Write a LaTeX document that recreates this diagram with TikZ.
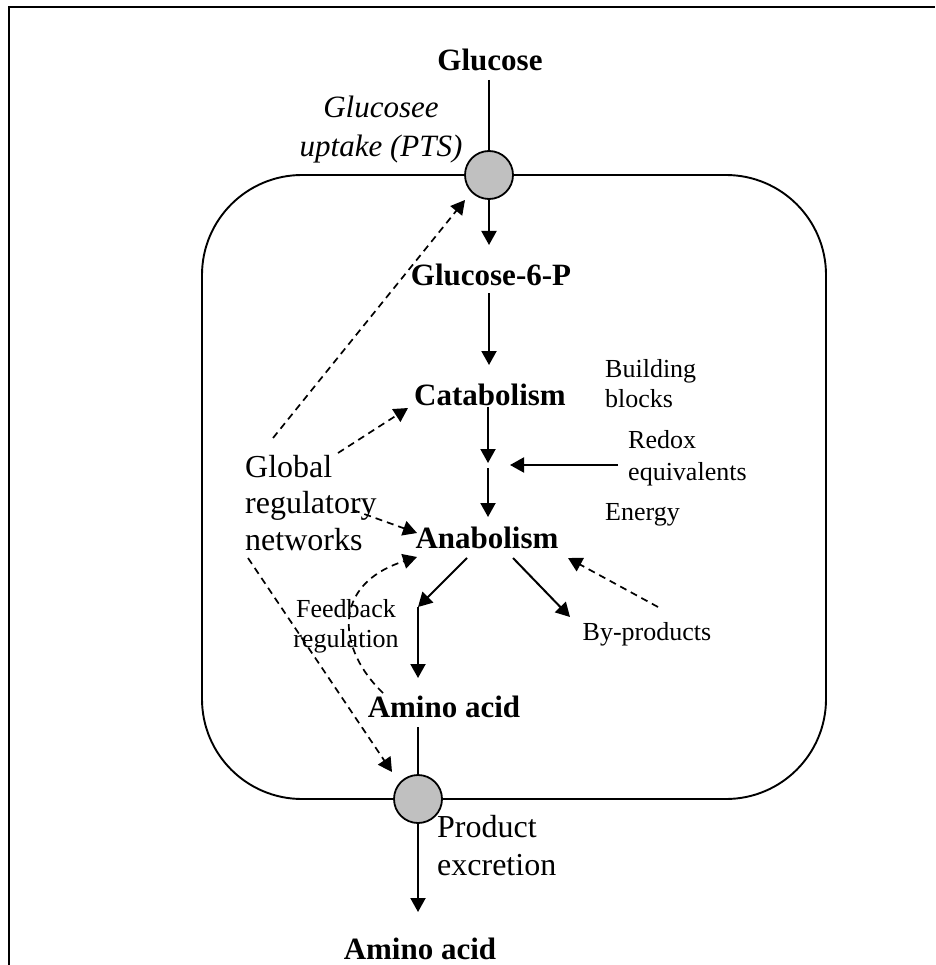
\documentclass[tikz,border=0pt]{standalone}
\usepackage{fontspec}
\setmainfont{Liberation Serif}
\usetikzlibrary{arrows.meta}
\definecolor{pore}{RGB}{192,192,192}
\begin{document}
\begin{tikzpicture}[x=1pt,y=-1pt,
  lbl/.style={inner sep=0pt, anchor=base},
  lblw/.style={inner sep=0pt, anchor=base west},
  bigb/.style={font=\fontsize{31}{36}\selectfont\bfseries},
  arr/.style={line width=2pt, -{Triangle[length=14pt,width=15pt]}},
  darr/.style={line width=1.7pt, dash pattern=on 7pt off 5pt, -{Triangle[length=14pt,width=15pt]}},
  poreshape/.style={circle, draw, fill=pore, line width=1.8pt, minimum size=48pt, inner sep=0pt}]
\useasboundingbox (0,0) rectangle (935,965);
% outer frame
\draw[line width=2.6pt] (9,965) -- (9,7) -- (935,7);
% cell
\draw[line width=1.9pt, rounded corners=100pt] (202,175) rectangle (826,799);
% pores
\node[poreshape] (up) at (489,175) {};
\node[poreshape] (dn) at (418,799) {};
% main labels
\node[lbl,bigb] (glc) at (490,71) {Glucose};
\node[lbl,bigb] (g6p) at (491,286) {Glucose-6-P};
\node[lbl,bigb] (cat) at (490,405) {Catabolism};
\node[lbl,bigb] (ana) at (487,548) {Anabolism};
\node[lbl,bigb] (aa1) at (444,717) {Amino acid};
\node[lbl,bigb] (aa2) at (420,959) {Amino acid};
% side labels
\node[lbl] (pts) at (381,118) {\fontsize{31}{39}\selectfont\itshape\begin{tabular}[t]{@{}c@{}}Glucosee\\uptake (PTS)\end{tabular}};
\node[lblw] (bb) at (605,377) {\fontsize{26}{30}\selectfont\begin{tabular}[t]{@{}l@{}}Building\\blocks\end{tabular}};
\node[lblw] (redox) at (628,448) {\fontsize{26}{32}\selectfont\begin{tabular}[t]{@{}l@{}}Redox\\equivalents\end{tabular}};
\node[lblw] (energy) at (605,520) {\fontsize{26}{30}\selectfont Energy};
\node[lbl] (byp) at (647,640) {\fontsize{26}{30}\selectfont By-products};
\node[lblw] (grn) at (245,477) {\fontsize{32}{36.5}\selectfont\begin{tabular}[t]{@{}l@{}}Global\\regulatory\\networks\end{tabular}};
\node[lbl] (fb) at (346,617) {\fontsize{26}{30}\selectfont\begin{tabular}[t]{@{}c@{}}Feedback\\regulation\end{tabular}};
\node[lblw] (prod) at (437,837) {\fontsize{32}{38}\selectfont\begin{tabular}[t]{@{}l@{}}Product\\excretion\end{tabular}};
% connector points
\coordinate (glcb) at (489,80);
\coordinate (g6pt) at (489,245);
\coordinate (g6pb) at (489,293);
\coordinate (catt) at (489,365);
\coordinate (catb) at (488,407);
\coordinate (midt) at (488,463);
\coordinate (midb) at (488,468);
\coordinate (anat) at (488,517);
\coordinate (redoxs) at (618,465);
\coordinate (redoxe) at (510,465);
\coordinate (anal) at (467,558);
\coordinate (kink) at (418,607);
\coordinate (aa1t) at (418,678);
\coordinate (anar) at (513,558);
\coordinate (bypt) at (570,617);
\coordinate (bypd) at (658,607);
\coordinate (anaback) at (568,558);
\coordinate (aa1b) at (418,727);
\coordinate (aa2t) at (418,912);
\coordinate (grntop) at (273,438);
\coordinate (uptip) at (465,200);
\coordinate (grncat) at (338,453);
\coordinate (cattip) at (408,408);
\coordinate (grnana) at (353,510);
\coordinate (anatip) at (417,533);
\coordinate (fbstart) at (383,693);
\coordinate (fbtip) at (417,557);
\coordinate (grnbot) at (248,558);
\coordinate (dntip) at (392,772);
% solid flow
\draw[line width=2pt] (glcb) -- (up.north);
\draw[arr] (up.south) -- (g6pt);
\draw[arr] (g6pb) -- (catt);
\draw[arr] (catb) -- (midt);
\draw[arr] (midb) -- (anat);
\draw[arr] (redoxs) -- (redoxe);
\draw[arr] (anal) -- (kink);
\draw[arr] (kink) -- (aa1t);
\draw[arr] (anar) -- (bypt);
\draw[line width=2pt] (aa1b) -- (dn.north);
\draw[arr] (dn.south) -- (aa2t);
% regulation (dashed)
\draw[darr] (bypd) -- (anaback);
\draw[darr] (grntop) -- (uptip);
\draw[darr] (grncat) -- (cattip);
\draw[darr] (grnana) -- (anatip);
\draw[darr] (fbstart) .. controls (338,650) and (330,585) .. (fbtip);
\draw[darr] (grnbot) -- (dntip);
\end{tikzpicture}
\end{document}
